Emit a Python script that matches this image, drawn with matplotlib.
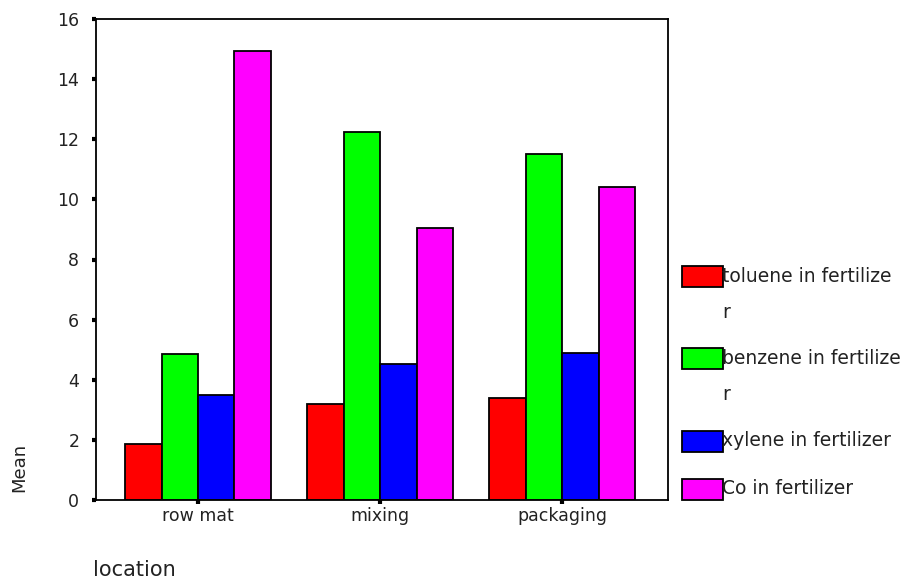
import matplotlib
matplotlib.use("Agg")
import matplotlib.pyplot as plt
from matplotlib.patches import Rectangle
import numpy as np

plt.rcParams['font.family'] = ['DejaVu Sans']

categories = ["row mat", "mixing", "packaging"]
series_names = ["toluene in fertilizer", "benzene in fertilizer", "xylene in fertilizer", "Co in fertilizer"]
legend_lines = [["toluene in fertilize", "r"], ["benzene in fertilize", "r"], ["xylene in fertilizer"], ["Co in fertilizer"]]
toluene = [1.85, 3.19, 3.40]
benzene = [4.85, 12.23, 11.50]
xylene = [3.49, 4.51, 4.89]
cobalt = [14.95, 9.05, 10.41]
colors = ["#ff0000", "#00ff00", "#0000ff", "#ff00ff"]
yticks = [0, 2, 4, 6, 8, 10, 12, 14, 16]

W, H = 909, 582
fig = plt.figure(figsize=(W / 100, H / 100), dpi=100)
ax = fig.add_axes([96 / W, 1 - 500 / H, 572 / W, 481 / H])

x = np.arange(len(categories))
bw = 0.2
for i, vals in enumerate([toluene, benzene, xylene, cobalt]):
    ax.bar(x + (i - 1.5) * bw, vals, width=bw, color=colors[i], edgecolor='black',
           linewidth=1.3, label=series_names[i], zorder=2)

ax.set_xlim(-0.56, 2.58)
ax.set_ylim(0, 16)
ax.set_yticks(yticks)
ax.set_xticks(x)
ax.set_xticklabels(categories)
for s in ax.spines.values():
    s.set_linewidth(1.3)
    s.set_color('black')
ax.tick_params(axis='both', direction='out', length=3, width=3, labelsize=12.5,
               colors='black', labelcolor='#222222')
ax.tick_params(axis='y', pad=9)
ax.tick_params(axis='x', pad=2)

fig.text(19 / W, 1 - 467 / H, "Mean", rotation=90, ha='center', va='center',
         fontsize=13, color='#222222')
fig.text(93 / W, 1 - 570 / H, "location", ha='left', va='center', fontsize=15,
         color='#222222')

# legend drawn beside the axes
patch_centers = [276, 358, 441, 489]
line_gap = 37
for i, lines in enumerate(legend_lines):
    yc = patch_centers[i]
    fig.add_artist(Rectangle((682 / W, 1 - (yc + 10.5) / H), 41 / W, 21 / H,
                             transform=fig.transFigure, facecolor=colors[i],
                             edgecolor='black', linewidth=1.3))
    for j, t in enumerate(lines):
        fig.text(722 / W, 1 - (yc + j * line_gap) / H, t, ha='left', va='center',
                 fontsize=13.5, color='#222222')

fig.savefig("out.png", dpi=100)
